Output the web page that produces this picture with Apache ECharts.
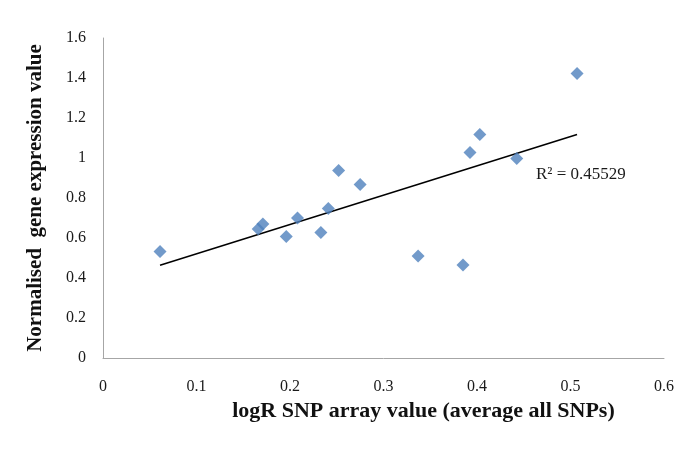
<!DOCTYPE html>
<html>
<head>
<meta charset="utf-8">
<script src="https://cdn.jsdelivr.net/npm/echarts@6/dist/echarts.min.js"></script>
<style>html,body{margin:0;padding:0;background:#fff}#c{width:685px;height:450px}</style>
</head>
<body>
<div id="c"></div>
<script>
// Data
const xValues = [0.061, 0.166, 0.171, 0.196, 0.208, 0.233, 0.241, 0.252, 0.275, 0.337, 0.385, 0.3925, 0.403, 0.4425, 0.507];
const yValues = [0.532, 0.645, 0.670, 0.607, 0.700, 0.627, 0.748, 0.937, 0.868, 0.510, 0.465, 1.027, 1.118, 0.998, 1.423];
const rSquaredText = 'R² = 0.45529';
const xTitle = 'logR SNP array value (average all SNPs)';
const yTitle = 'Normalised  gene expression value';

const points = xValues.map((x, i) => [x, yValues[i]]);

// Linear least-squares trendline across the data range
const n = xValues.length;
const mx = xValues.reduce((a, b) => a + b, 0) / n;
const my = yValues.reduce((a, b) => a + b, 0) / n;
let sxy = 0, sxx = 0;
for (let i = 0; i < n; i++) { sxy += (xValues[i] - mx) * (yValues[i] - my); sxx += (xValues[i] - mx) ** 2; }
const slope = sxy / sxx;
const intercept = my - slope * mx;
const xMin = Math.min(...xValues), xMax = Math.max(...xValues);
const trend = [[xMin, intercept + slope * xMin], [xMax, intercept + slope * xMax]];

const serif = '"Liberation Serif", "Times New Roman", serif';
const chart = echarts.init(document.getElementById('c'), null, { renderer: 'canvas' });
chart.setOption({
  animation: false,
  backgroundColor: '#ffffff',
  grid: { left: 103, right: 21, top: 38, bottom: 92, containLabel: false },
  xAxis: {
    type: 'value', min: 0, max: 0.6, interval: 0.1,
    name: xTitle, nameLocation: 'middle', nameGap: 40,
    nameTextStyle: { fontFamily: serif, fontWeight: 'bold', fontSize: 22, color: '#111', padding: [0, 0, 0, 80] },
    axisLine: { show: true, lineStyle: { color: '#a6a6a6', width: 1 } },
    axisTick: { show: false },
    splitLine: { show: false },
    axisLabel: { fontFamily: serif, fontSize: 16, color: '#1a1a1a', margin: 21 }
  },
  yAxis: {
    type: 'value', min: 0, max: 1.6, interval: 0.2,
    name: yTitle, nameLocation: 'middle', nameGap: 57, nameRotate: 90,
    nameTextStyle: { fontFamily: serif, fontWeight: 'bold', fontSize: 21, color: '#111' },
    axisLine: { show: true, lineStyle: { color: '#a6a6a6', width: 1 } },
    axisTick: { show: false },
    splitLine: { show: false },
    axisLabel: { fontFamily: serif, fontSize: 16, color: '#1a1a1a', margin: 17 }
  },
  series: [
    {
      type: 'line', data: trend, symbol: 'none', z: 2,
      lineStyle: { color: '#000', width: 1.5 }, silent: true
    },
    {
      type: 'scatter', data: points, symbol: 'diamond', symbolSize: [13, 13], z: 3,
      itemStyle: { color: '#4f81bd' }
    }
  ],
  graphic: [
    { type: 'text', left: 536, top: 166, style: { text: rSquaredText, font: '17px ' + serif, fill: '#1a1a1a' } }
  ]
});
</script>
</body>
</html>
